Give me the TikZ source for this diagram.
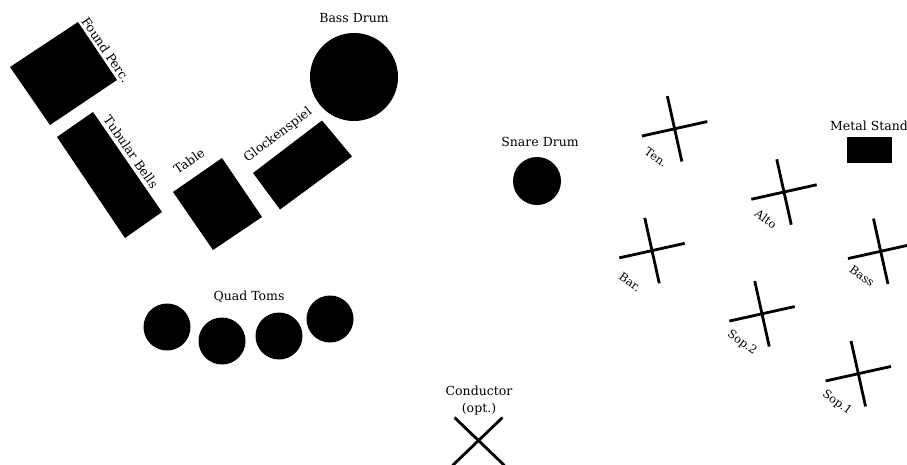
\documentclass[tikz,border=0pt]{standalone}
\usepackage{fontspec}
\setmainfont{DejaVu Serif}
\usetikzlibrary{calc}
\tikzset{
  lbl/.style={inner sep=0pt, font=\fontsize{12.5}{15}\selectfont},
  slbl/.style={inner sep=0pt, font=\fontsize{11.5}{14}\selectfont, rotate=-36},
  arm/.style={line width=2.8pt},
  solid/.style={fill=black},
}
\begin{document}
\begin{tikzpicture}[x=1pt,y=-1pt]
\useasboundingbox (0,0) rectangle (907,464);
\begin{scope}
\clip (0,0) rectangle (907,464);
% rectangles
\fill (78,22) -- (117,80) -- (50,125) -- (10,67) -- cycle;
\node[lbl, rotate=-56] (found) at (106,50) {Found Perc.};
\fill (93,112) -- (162,212) -- (125,238) -- (57,137) -- cycle;
\node[lbl, rotate=-55] (tub) at (131,152) {Tubular Bells};
\fill (222,158) -- (262,217) -- (213,250) -- (173,192) -- cycle;
\node[lbl, rotate=35] (table) at (189,161) {Table};
\fill (322,120.5) -- (352,156.5) -- (280,209.5) -- (253,173) -- cycle;
\node[lbl, rotate=37] (glock) at (278,135) {Glockenspiel};
% drums
\fill (354,77) circle (44);
\node[lbl] (bd) at (354,18) {Bass Drum};
\fill (167,327) circle (23.5);
\fill (222,341) circle (23.5);
\fill (279,336) circle (23.5);
\fill (330,319) circle (23.5);
\node[lbl] (qt) at (249,297) {Quad Toms};
\fill (537,181) circle (24);
\node[lbl] (sd) at (540,142) {Snare Drum};
% metal stand
\fill (847,137) rectangle (892,163);
\node[lbl] (ms) at (869,126) {Metal Stand};
% conductor
\coordinate (cond) at (478.5,440.5);
\draw[arm] ($(cond)+(-24,-23)$) -- ($(cond)+(26,25)$);
\draw[arm] ($(cond)+(24,-23)$) -- ($(cond)+(-26,25)$);
\node[lbl, align=center, font=\fontsize{12.5}{17}\selectfont] (condl) at (479,401) {Conductor\\(opt.)};
% singers
\foreach \n/\x/\y in {ten/674.6/128.8, bar/652/250.6, alto/784/192, bass/880.7/251.3, sopb/762/313.8, sopa/858.3/373.7}{
  \coordinate (\n) at (\x,\y);
  \draw[arm] ($(\n)+(-32.7,7.25)$) -- ($(\n)+(32.7,-7.25)$);
  \draw[arm] ($(\n)+(-7.25,-32.7)$) -- ($(\n)+(7.25,32.7)$);
}
\node[slbl] (tenl) at (656,157) {Ten.};
\node[slbl] (barl) at (630,282) {Bar.};
\node[slbl] (altol) at (766,219) {Alto};
\node[slbl] (bassl) at (862,276) {Bass};
\node[slbl] (sopbl) at (742,343) {Sop.2};
\node[slbl] (sopal) at (837,403) {Sop.1};
\end{scope}
\end{tikzpicture}
\end{document}
